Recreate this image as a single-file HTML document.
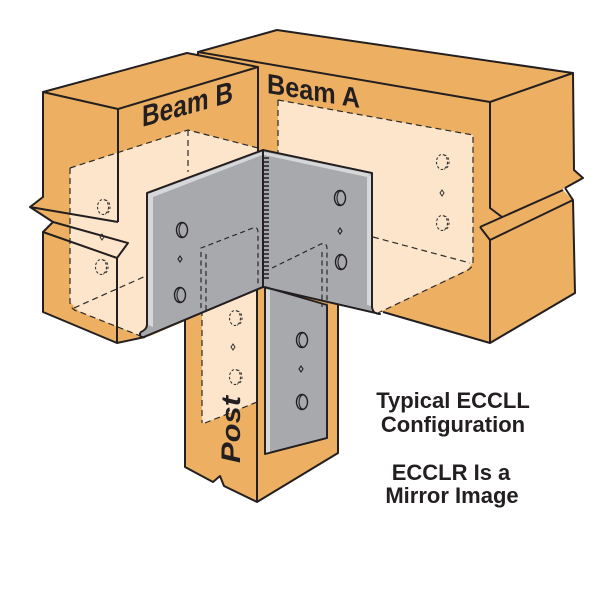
<!DOCTYPE html>
<html><head><meta charset="utf-8"><style>html,body{margin:0;padding:0;background:#fff}svg{display:block}</style></head>
<body>
<svg width="600" height="600" viewBox="0 0 600 600" xmlns="http://www.w3.org/2000/svg">
<rect width="600" height="600" fill="#fff"/>
<!-- Beam A fills -->
<g fill="#EDB063">
<polygon points="198,52 277,30 573,73 490,102"/>
<polygon points="198,52 490,102 490,343 383,312 260,292 198,275"/>
<polygon points="490,102 573,73 574,170 583,178 565,188 502,217 490,208"/>
<polygon points="480,227 490,240 573,200 563,190 502,217 490,208"/>
<polygon points="490,240 573,200 575,293 490,343"/>
</g>
<!-- Light panel A -->
<polygon fill="#FDE5CC" points="278,100 473,135 473,262 467,270 380,312 372,312 263,287 263,150 278,153"/>
<g fill="none" stroke="#2a2a2a" stroke-width="1.2" stroke-dasharray="6 4">
<path d="M278,100 L473,135 L473,262 Q473,268 466,271 L378,313"/>
<path d="M278,100 L278,156"/>
<path d="M373,237 L470,263"/>
</g>
<g fill="none" stroke="#333" stroke-width="1.1" stroke-dasharray="2.5 2">
<ellipse cx="442" cy="162" rx="5.5" ry="7.5"/><path d="M444,155 A5 7 0 0 1 444,169"/>
<ellipse cx="442" cy="223" rx="5.5" ry="7.5"/><path d="M444,216 A5 7 0 0 1 444,230"/>
</g>
<path d="M442,190 L444,193 L442,196 L440,193 Z" fill="none" stroke="#333" stroke-width="1"/>
<!-- Beam A strokes -->
<g fill="none" stroke="#231f20" stroke-width="2" stroke-linejoin="round">
<path d="M198,56 L198,52 L277,30 L573,73 L574,170 L583,178 L565,188"/>
<path d="M198,52 L490,102 L573,73"/>
<path d="M490,102 L490,208 L502,217"/>
<path d="M480,227 L563,190"/>
<path d="M480,227 L490,240 L573,200 L565,188"/>
<path d="M490,240 L490,343 L575,293 L573,200"/>
<path d="M490,343 L383,312"/>
</g>
<!-- Beam B fills -->
<g fill="#EDB063">
<polygon points="43,92 187,53 258,67 118,109"/>
<polygon points="118,109 258,67 258,290 150,336 117,343"/>
<polygon points="43,92 118,109 118,222 128,243 117,258 117,343 43,312 43,232 53,222 30,207 43,197"/>
</g>
<!-- Light panel B -->
<polygon fill="#FDE5CC" points="70,168 188,130 258,148 258,290 143,337 80,312 70,302"/>
<g fill="none" stroke="#2a2a2a" stroke-width="1.2" stroke-dasharray="6 4">
<path d="M70,168 L188,130 L258,148"/>
<path d="M188,130 L188,172"/>
<path d="M70,168 L70,302 Q70,310 80,312 L143,337"/>
<path d="M74,308 L148,275"/>
</g>
<g fill="none" stroke="#333" stroke-width="1.1" stroke-dasharray="2.5 2">
<ellipse cx="103" cy="207" rx="5.5" ry="7.5"/><path d="M105,200 A5 7 0 0 1 105,214"/>
<ellipse cx="101" cy="267" rx="5.5" ry="7.5"/><path d="M103,260 A5 7 0 0 1 103,274"/>
</g>
<path d="M102,234 L104,237 L102,240 L100,237 Z" fill="none" stroke="#333" stroke-width="1"/>
<!-- Beam B strokes -->
<g fill="none" stroke="#231f20" stroke-width="2" stroke-linejoin="round">
<path d="M43,92 L187,53 L258,67 L118,109 Z"/>
<path d="M43,92 L43,197 L30,207 L118,222"/>
<path d="M30,207 L53,222 L128,243 L117,258 L43,232 L53,222"/>
<path d="M118,109 L118,222"/>
<path d="M43,232 L43,312 L117,343 L117,258"/>
<path d="M117,343 L145,337"/>
<path d="M258,67 L258,152"/>
</g>
<!-- Post -->
<polygon fill="#EDB063" points="185,300 257,280 257,502 224,486 220,476 213,482 185,467"/>
<polygon fill="#FDE5CC" points="202,300 257,285 257,402 205,423 202,423"/>
<polygon fill="#EDB063" points="257,280 338,300 338,453 257,502"/>
<g fill="none" stroke="#2a2a2a" stroke-width="1.2" stroke-dasharray="6 4">
<path d="M202,300 L202,423"/>
<path d="M205,423 L257,402"/>
</g>
<g fill="none" stroke="#333" stroke-width="1.1" stroke-dasharray="2.5 2">
<ellipse cx="235" cy="318" rx="5.5" ry="7.5"/><path d="M237,311 A5 7 0 0 1 237,325"/>
<ellipse cx="235" cy="377" rx="5.5" ry="7.5"/><path d="M237,370 A5 7 0 0 1 237,384"/>
</g>
<path d="M233,344 L235,347 L233,350 L231,347 Z" fill="none" stroke="#333" stroke-width="1"/>
<g fill="none" stroke="#231f20" stroke-width="2" stroke-linejoin="round">
<path d="M185,300 L185,467 L213,482 L220,476 L224,486 L257,502 L338,453 L338,300"/>
<path d="M257,290 L257,502"/>
</g>
<!-- Bracket -->
<g stroke="#231f20" stroke-width="1.8" stroke-linejoin="round">
<path fill="#A7A9AC" d="M147,193 L263,150 L263,287 L144,337 C140,338 139,334 141,332 C145,330 147,328 147,324 Z"/>
<path fill="#A7A9AC" d="M263,150 L372,173 L372,306 C372,311 375,314 380,314 L263,287 Z"/>
<path fill="#A7A9AC" d="M265,287 L327,305 L327,438 L265,454 Z"/>
</g>
<g fill="#D6D7D9">
<polygon points="148,194 262,152 262,155 153,197"/>
<polygon points="148,194 153,197 153,327 148,325"/>
<polygon points="264,152 371,174 367,177 264,155"/>
<polygon points="367,177 371,175 371,306 367,305"/>
<polygon points="266,289 270,290 270,452 266,453"/>
</g>
<g fill="none" stroke="#231f20" stroke-width="1.8" stroke-linejoin="round">
<path d="M147,193 L263,150 L372,173 L372,306 C372,311 375,314 380,314 L263,287 L144,337 C140,338 139,334 141,332 C145,330 147,328 147,324 Z"/>
<path d="M263,150 L263,287"/>
<path d="M265,287 L265,454 L327,438 L327,305"/>
</g>
<!-- weld -->
<path fill="none" stroke="#231f20" stroke-width="1.6" d="M263,158h6M263,162h6M263,166h6M263,170h6M263,174h6M263,178h6M263,182h6M263,186h6M263,190h6M263,194h6M263,198h6M263,202h6M263,206h6M263,210h6M263,214h6M263,218h6M263,222h6M263,226h6M263,230h6M263,234h6M263,238h6M263,242h6M263,246h6M263,250h6M263,254h6M263,258h6M263,262h6M263,266h6M263,270h6M263,274h6M263,278h6"/>
<!-- bracket dashed -->
<g fill="none" stroke="#2a2a2a" stroke-width="1.2" stroke-dasharray="5 3.5">
<path d="M201,308 L201,248 L253,228 Q258,226 258,233 L258,287"/>
<path d="M206,310 L206,252"/>
<path d="M272,268 L321,244 Q327,242 327,249 L327,307"/>
<path d="M322,252 L322,307"/>
</g>
<!-- bracket holes -->
<g fill="#A7A9AC" stroke="#231f20" stroke-width="1.4">
<ellipse cx="182" cy="230" rx="5.5" ry="7.5"/>
<ellipse cx="180" cy="295" rx="5.5" ry="7.5"/>
<ellipse cx="340" cy="198" rx="5.5" ry="7.5"/>
<ellipse cx="341" cy="262" rx="5.5" ry="7.5"/>
<ellipse cx="302" cy="340" rx="5.5" ry="7.5"/>
<ellipse cx="302" cy="402" rx="5.5" ry="7.5"/>
</g>
<g fill="none" stroke="#231f20" stroke-width="1.1">
<path d="M183,223 A4 7 0 0 0 183,237"/>
<path d="M181,288 A4 7 0 0 0 181,302"/>
<path d="M341,191 A4 7 0 0 0 341,205"/>
<path d="M342,255 A4 7 0 0 0 342,269"/>
<path d="M303,333 A4 7 0 0 0 303,347"/>
<path d="M303,395 A4 7 0 0 0 303,409"/>
<path d="M180,256 L182,259 L180,262 L178,259 Z"/>
<path d="M340,228 L342,231 L340,234 L338,231 Z"/>
<path d="M301,366 L303,369 L301,372 L299,369 Z"/>
</g>
<!-- Labels -->
<g font-family="'Liberation Sans', Arial, sans-serif" font-weight="bold" fill="#231f20">
<text transform="matrix(1,-0.28,0,1,142,127)" font-size="30" textLength="91" lengthAdjust="spacingAndGlyphs">Beam B</text>
<text transform="matrix(1,0.16,0,1,267,93)" font-size="28" textLength="93" lengthAdjust="spacingAndGlyphs">Beam A</text>
<text transform="translate(240,463) rotate(-90)" font-size="27" font-style="italic" textLength="67" lengthAdjust="spacingAndGlyphs">Post</text>
<g font-size="22" text-anchor="middle">
<text x="453" y="408">Typical ECCLL</text>
<text x="453" y="432">Configuration</text>
<text x="451" y="480">ECCLR Is a</text>
<text x="452" y="503">Mirror Image</text>
</g>
</g>
</svg>
</body></html>
